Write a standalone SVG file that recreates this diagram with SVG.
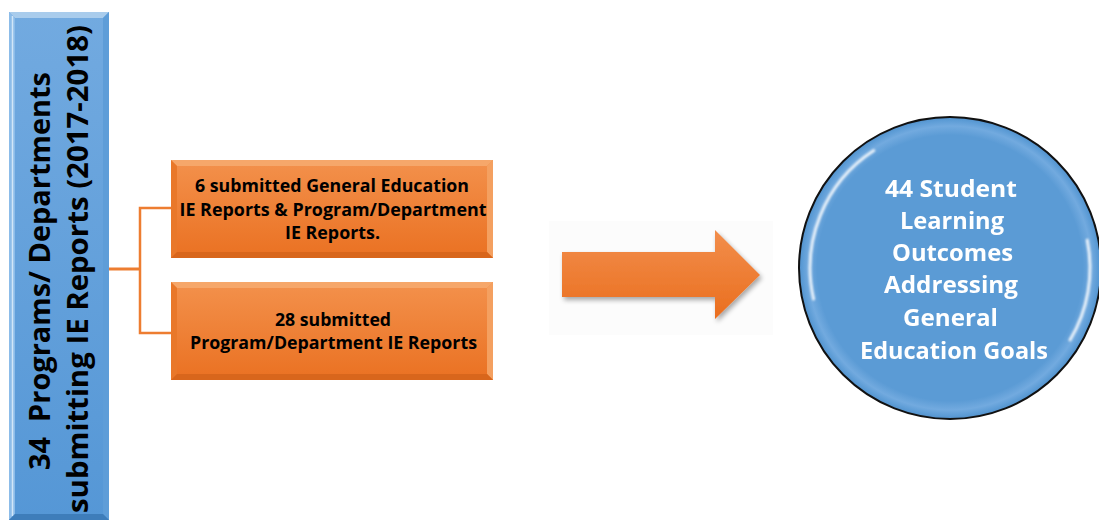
<svg xmlns="http://www.w3.org/2000/svg" xmlns:xlink="http://www.w3.org/1999/xlink" width="1099" height="522" viewBox="0 0 1099 522">
  <style>
    .lbl { font-family: "Open Sans", "Liberation Sans", sans-serif; font-weight: 700; text-anchor: middle; }
    .dark { fill: #000000; }
    .light { fill: #FFFFFF; }
    .link { fill: none; stroke: #ED7D31; stroke-linejoin: miter; }
  </style>
  <defs>
    <linearGradient id="barFill" x1="0" y1="0" x2="0" y2="1">
      <stop offset="0" stop-color="#72AAE0"/>
      <stop offset="1" stop-color="#5597D6"/>
    </linearGradient>
    <linearGradient id="boxFill" x1="0" y1="0" x2="0" y2="1">
      <stop offset="0" stop-color="#F3914C"/>
      <stop offset="1" stop-color="#EA7122"/>
    </linearGradient>
    <linearGradient id="arrowFill" x1="0" y1="0" x2="0" y2="1">
      <stop offset="0" stop-color="#F28E4C"/>
      <stop offset="1" stop-color="#EA6E1E"/>
    </linearGradient>
    <radialGradient id="discRim" cx="0.5" cy="0.5" r="0.5">
      <stop offset="0" stop-color="#5B9BD5"/>
      <stop offset="0.88" stop-color="#5B9BD5"/>
      <stop offset="0.94" stop-color="#72AADF"/>
      <stop offset="0.98" stop-color="#5B9BD5"/>
      <stop offset="1" stop-color="#5290CA"/>
    </radialGradient>
    <filter id="shadow" x="-10%" y="-20%" width="130%" height="150%">
      <feGaussianBlur in="SourceAlpha" stdDeviation="2.5"/>
      <feOffset dx="2" dy="3" result="b"/>
      <feComponentTransfer><feFuncA type="linear" slope="0.35"/></feComponentTransfer>
      <feMerge><feMergeNode/><feMergeNode in="SourceGraphic"/></feMerge>
    </filter>
    <filter id="soft" x="-20%" y="-20%" width="140%" height="140%">
      <feGaussianBlur stdDeviation="1.2"/>
    </filter>
    <!-- bevelled orange box, 322 x 98 -->
    <g id="orangeBox">
      <rect x="0" y="0" width="322" height="98" fill="url(#boxFill)"/>
      <polygon points="0,0 322,0 316,6 6,6" fill="#F6A76A"/>
      <polygon points="0,0 6,6 6,92 0,98" fill="#E9782A"/>
      <polygon points="322,0 316,6 316,92 322,98" fill="#F4A060"/>
      <polygon points="0,98 6,92 316,92 322,98" fill="#D8661C"/>
    </g>
  </defs>

  <rect width="1099" height="522" fill="#FFFFFF"/>

  <!-- connectors -->
  <g id="connectors">
    <path class="link" d="M109,269 H140" stroke-width="3"/>
    <path class="link" d="M171,208 H140 V333 H171" stroke-width="2.5"/>
    <g id="flow-arrow">
      <rect x="549" y="221" width="224" height="114" fill="#FCFCFC"/>
      <polygon points="562,252 715,252 715,230 760,275 715,319 715,297 562,297" fill="url(#arrowFill)" filter="url(#shadow)"/>
    </g>
  </g>

  <!-- vertical title bar -->
  <g id="node-programs">
    <rect x="9" y="12" width="100" height="508" fill="url(#barFill)"/>
    <polygon points="9,12 109,12 103,18 15,18" fill="#A9CCEC"/>
    <polygon points="9,12 15,18 15,514 9,520" fill="#8CBCE9"/>
    <line x1="12.5" y1="16" x2="12.5" y2="516" stroke="#D2E6F8" stroke-width="1.5"/>
    <polygon points="109,12 103,18 103,514 109,520" fill="#5E9DD8"/>
    <polygon points="9,520 15,514 103,514 109,520" fill="#3E7DBA"/>
    <text class="lbl dark" font-size="29" transform="translate(50,271) rotate(-90)" textLength="398" lengthAdjust="spacingAndGlyphs" xml:space="preserve">34  Programs/ Departments</text>
    <text class="lbl dark" font-size="29" transform="translate(88,269) rotate(-90)" textLength="488" lengthAdjust="spacingAndGlyphs">submitting IE Reports (2017-2018)</text>
  </g>

  <!-- general education + program reports -->
  <g id="node-gen-ed">
    <use xlink:href="#orangeBox" href="#orangeBox" transform="translate(171,160)"/>
    <text class="lbl dark" font-size="18" x="332" y="192" textLength="274" lengthAdjust="spacingAndGlyphs">6 submitted General Education</text>
    <text class="lbl dark" font-size="18" x="333" y="215.5" textLength="307" lengthAdjust="spacingAndGlyphs">IE Reports &amp; Program/Department</text>
    <text class="lbl dark" font-size="18" x="332.5" y="239" textLength="95" lengthAdjust="spacingAndGlyphs">IE Reports.</text>
  </g>

  <!-- program-only reports -->
  <g id="node-program">
    <use xlink:href="#orangeBox" href="#orangeBox" transform="translate(171,282)"/>
    <text class="lbl dark" font-size="18" x="333" y="325.5" textLength="116" lengthAdjust="spacingAndGlyphs">28 submitted</text>
    <text class="lbl dark" font-size="18" x="333.5" y="349" textLength="287" lengthAdjust="spacingAndGlyphs">Program/Department IE Reports</text>
  </g>

  <!-- outcomes disc -->
  <g id="node-outcomes">
    <circle cx="950" cy="268" r="151" fill="url(#discRim)" stroke="#111111" stroke-width="2"/>
    <g fill="none" stroke="#FFFFFF" stroke-linecap="round" filter="url(#soft)">
      <path d="M813.6,299.1 A140,140 0 0 1 873.8,150.6" stroke-width="3" opacity="0.85"/>
      <path d="M1087.2,240.1 A140,140 0 0 1 1070,340" stroke-width="3" opacity="0.85"/>
    </g>
    <text class="lbl light" font-size="24" x="951" y="196.5" textLength="132" lengthAdjust="spacingAndGlyphs">44 Student</text>
    <text class="lbl light" font-size="24" x="952" y="228.5" textLength="104" lengthAdjust="spacingAndGlyphs">Learning</text>
    <text class="lbl light" font-size="24" x="952.5" y="261" textLength="121" lengthAdjust="spacingAndGlyphs">Outcomes</text>
    <text class="lbl light" font-size="24" x="951" y="293" textLength="134" lengthAdjust="spacingAndGlyphs">Addressing</text>
    <text class="lbl light" font-size="24" x="950.5" y="326" textLength="95" lengthAdjust="spacingAndGlyphs">General</text>
    <text class="lbl light" font-size="24" x="954" y="358.5" textLength="188" lengthAdjust="spacingAndGlyphs">Education Goals</text>
  </g>
</svg>
